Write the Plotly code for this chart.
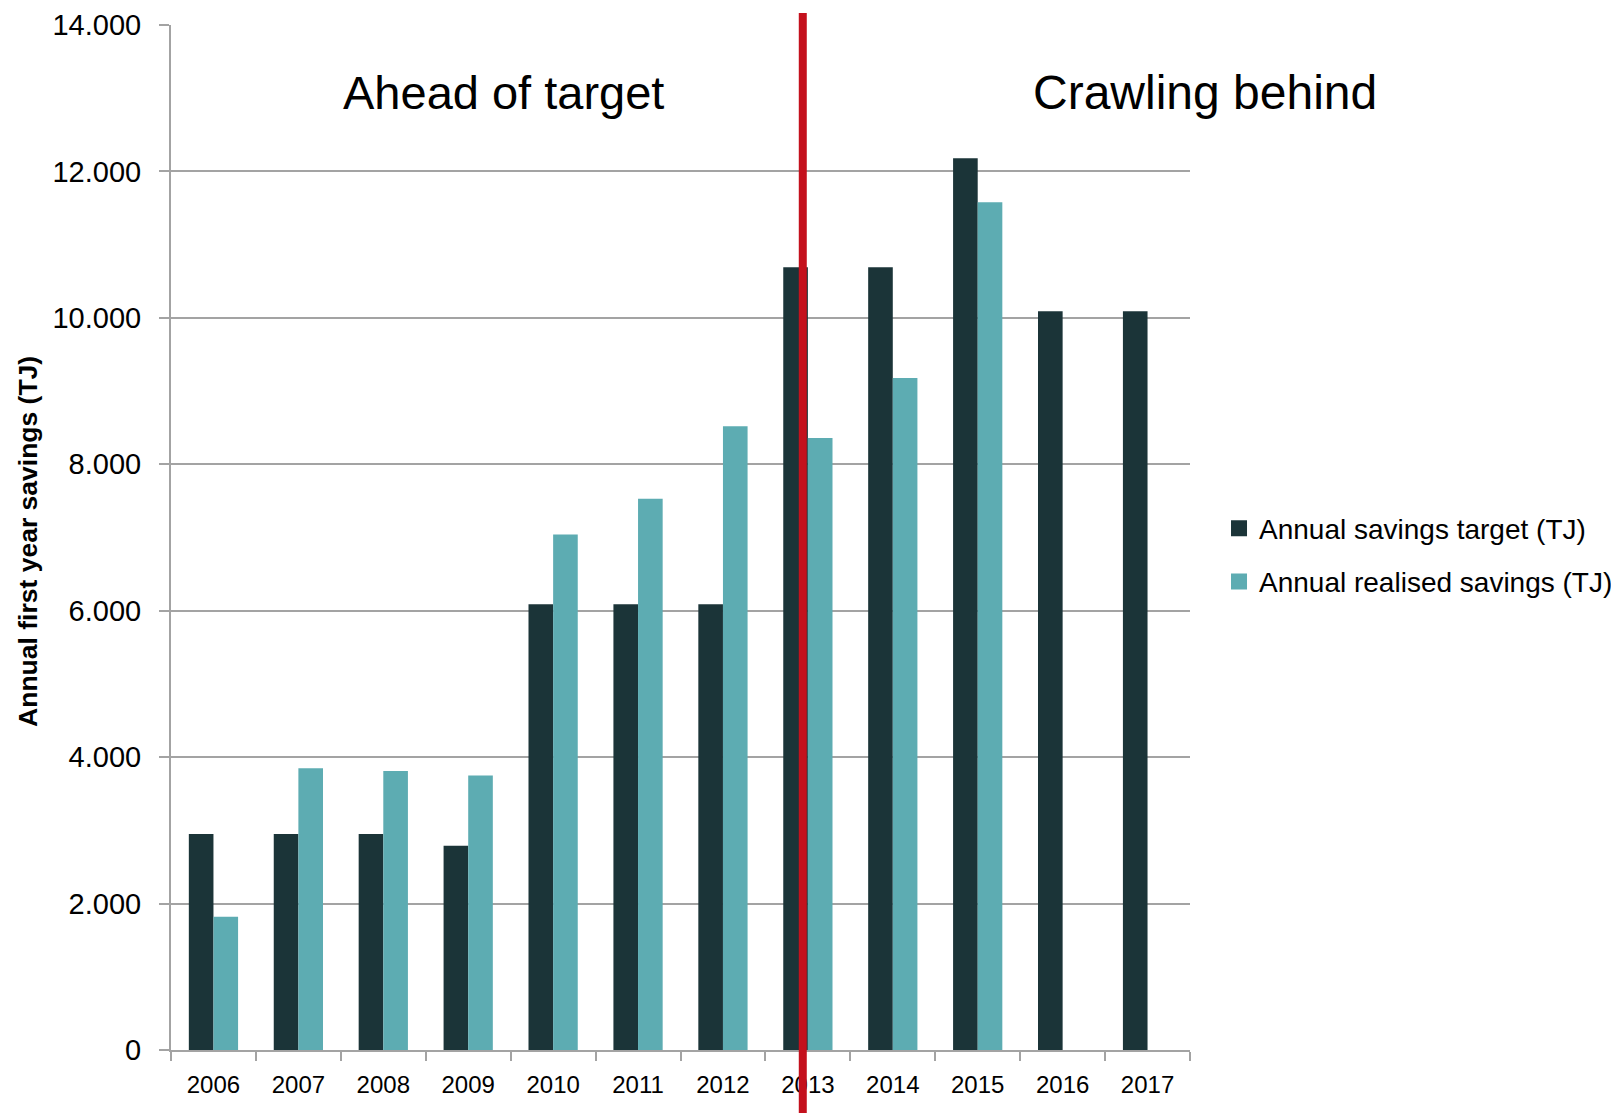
import plotly.graph_objects as go

years = ["2006", "2007", "2008", "2009", "2010", "2011", "2012", "2013", "2014", "2015", "2016", "2017"]
target = [2950, 2950, 2950, 2790, 6090, 6090, 6090, 10690, 10690, 12180, 10090, 10090]
realised = [1820, 3850, 3810, 3750, 7040, 7530, 8520, 8360, 9180, 11580, None, None]
y_ticks = [0, 2000, 4000, 6000, 8000, 10000, 12000, 14000]
divider_pos = 6.94  # category-index position of red divider (just left of 2013 centre)

FONT = "Liberation Sans"
GRID = "#a3a3a3"
DARK = "#1b3438"
LIGHT = "#5dacb2"

fig = go.Figure()
fig.add_trace(go.Bar(x=years, y=target, name="Annual savings target (TJ)",
                     marker=dict(color=DARK, line=dict(width=0)), showlegend=False))
fig.add_trace(go.Bar(x=years, y=realised, name="Annual realised savings (TJ)",
                     marker=dict(color=LIGHT, line=dict(width=0)), showlegend=False))
# legend entries (square swatches)
fig.add_trace(go.Scatter(x=[None], y=[None], mode="markers", name="Annual savings target (TJ)",
                         marker=dict(symbol="square", size=18, color=DARK), legendgroup="a"))
fig.add_trace(go.Scatter(x=[None], y=[None], mode="markers", name="Annual realised savings (TJ)",
                         marker=dict(symbol="square", size=18, color=LIGHT), legendgroup="b"))

fig.add_shape(type="line", xref="x", yref="paper", x0=divider_pos, x1=divider_pos,
              y0=-0.08, y1=1.0117, line=dict(color="#c4111d", width=8), layer="above")

fig.add_annotation(text="Ahead of target", xref="paper", yref="paper", x=0.3265, y=0.934,
                   showarrow=False, font=dict(family=FONT, size=47, color="black"),
                   xanchor="center", yanchor="middle")
fig.add_annotation(text="Crawling behind", xref="paper", yref="paper", x=1.0147, y=0.934,
                   showarrow=False, font=dict(family=FONT, size=48, color="black"),
                   xanchor="center", yanchor="middle")
fig.add_annotation(text="<b>Annual first year savings (TJ)</b>", xref="paper", yref="paper",
                   x=-0.141, y=0.496, showarrow=False, textangle=-90,
                   font=dict(family=FONT, size=26.5, color="black"),
                   xanchor="center", yanchor="middle")

fig.update_layout(
    width=1619, height=1113,
    margin=dict(l=163, r=437, t=17, b=71),
    paper_bgcolor="white", plot_bgcolor="white",
    barmode="group", bargap=0.42, bargroupgap=0,
    separators=",.",
    font=dict(family=FONT, color="black"),
    showlegend=True,
    legend=dict(x=0.748, xref="container", y=0.483, yref="paper",
                xanchor="left", yanchor="middle",
                font=dict(family=FONT, size=28, color="black"),
                traceorder="grouped", tracegroupgap=14, itemwidth=30,
                bgcolor="rgba(0,0,0,0)"),
)
fig.update_xaxes(type="category", showline=True, linecolor=GRID, linewidth=2,
                 ticks="outside", tickson="boundaries", ticklen=9, tickcolor=GRID, tickwidth=2,
                 tickfont=dict(family=FONT, size=24, color="black"), ticklabelstandoff=12,
                 showgrid=False, automargin=False)
fig.update_yaxes(range=[0, 14000], tickvals=y_ticks, tickformat=",d",
                 showline=True, linecolor=GRID, linewidth=2,
                 ticks="outside", ticklen=10, tickcolor=GRID, tickwidth=2,
                 showgrid=True, gridcolor=GRID, gridwidth=2, zeroline=False,
                 tickfont=dict(family=FONT, size=29, color="black"), ticklabelstandoff=12,
                 automargin=False)

fig.write_html("out.html")
